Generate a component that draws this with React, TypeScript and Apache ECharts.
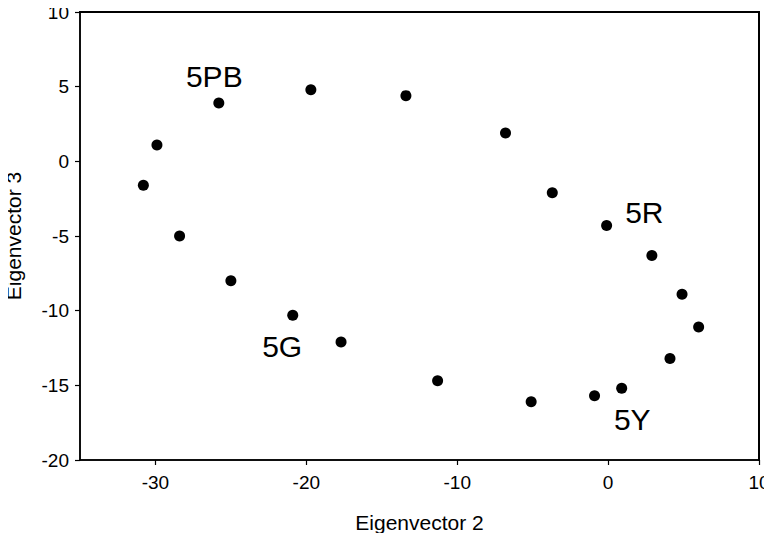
import React, { useEffect, useRef } from "react";
import * as echarts from "echarts";

const eigenvector2 = [-25.8, -19.7, -13.4, -6.8, -3.7, -0.1, 2.9, 4.9, 6.0, 4.1, 0.9, -0.9, -5.1, -11.3, -17.7, -20.9, -25.0, -28.4, -30.8, -29.9];
const eigenvector3 = [3.9, 4.8, 4.4, 1.9, -2.1, -4.3, -6.3, -8.9, -11.1, -13.2, -15.2, -15.7, -16.1, -14.7, -12.1, -10.3, -8.0, -5.0, -1.6, 1.1];

const labelNames = ["5PB", "5R", "5G", "5Y"];
const labelX = [-26.1, 2.4, -21.6, 1.6];
const labelY = [5.65, -3.4, -12.4, -17.3];

const xTicks = [-30, -20, -10, 0, 10];
const yTicks = [-20, -15, -10, -5, 0, 5, 10];
const xRange = [-35, 10];
const yRange = [-20, 10];

const FONT = "'Liberation Sans', Arial, Helvetica, sans-serif";

export default function App() {
  const ref = useRef<HTMLDivElement>(null);
  useEffect(() => {
    if (!ref.current) return;
    const chart = echarts.init(ref.current, null, { renderer: "svg" });
    chart.setOption({
      animation: false,
      grid: {
        left: 80,
        top: 12,
        right: 13,
        bottom: 81,
        outerBoundsMode: "none",
        show: true,
        borderColor: "#000",
        borderWidth: 1.5,
        backgroundColor: "rgba(255,255,255,0)",
      },
      xAxis: {
        type: "value",
        min: xRange[0],
        max: xRange[1],
        name: "Eigenvector 2",
        nameLocation: "middle",
        nameGap: 52,
        nameTextStyle: { color: "#000", fontSize: 21, fontFamily: FONT },
        axisLine: { onZero: false, lineStyle: { color: "#000", width: 1.5 } },
        axisTick: { show: true, length: 5, customValues: xTicks, lineStyle: { color: "#000", width: 1.2 } },
        axisLabel: { customValues: xTicks, color: "#000", fontSize: 19, fontFamily: FONT, margin: 13 },
        splitLine: { show: false },
      },
      yAxis: {
        type: "value",
        min: yRange[0],
        max: yRange[1],
        interval: 5,
        name: "Eigenvector 3",
        nameLocation: "middle",
        nameGap: 56,
        nameRotate: 90,
        nameTextStyle: { color: "#000", fontSize: 21, fontFamily: FONT },
        axisLine: { show: true, onZero: false, lineStyle: { color: "#000", width: 1.5 } },
        axisTick: { show: true, length: 5, customValues: yTicks, lineStyle: { color: "#000", width: 1.2 } },
        axisLabel: { customValues: yTicks, color: "#000", fontSize: 19, fontFamily: FONT, margin: 11 },
        splitLine: { show: false },
      },
      series: [
        {
          type: "scatter",
          symbol: "circle",
          symbolSize: 11,
          itemStyle: { color: "#000", opacity: 1 },
          data: eigenvector2.map((x, i) => [x, eigenvector3[i]]),
        },
      ],
    });
    const tl = chart.convertToPixel({ gridIndex: 0 }, [xRange[0], yRange[1]]) as number[];
    const br = chart.convertToPixel({ gridIndex: 0 }, [xRange[1], yRange[0]]) as number[];
    const texts = labelNames.map((n, i) => {
      const p = chart.convertToPixel({ gridIndex: 0 }, [labelX[i], labelY[i]]) as number[];
      return {
        type: "text",
        x: p[0],
        y: p[1],
        z: 20,
        style: {
          text: n,
          fill: "#000",
          fontSize: 30,
          fontFamily: FONT,
          align: "center",
          verticalAlign: "middle",
        },
      };
    });
    chart.setOption({
      graphic: [
        {
          type: "rect",
          z: 30,
          shape: { x: tl[0] - 1, y: tl[1] - 1, width: br[0] - tl[0] + 2, height: 2 },
          style: { fill: "#000" },
        },
        {
          type: "rect",
          z: 30,
          shape: { x: br[0] - 1, y: tl[1] - 1, width: 2, height: br[1] - tl[1] + 2 },
          style: { fill: "#000" },
        },
        ...texts,
      ],
    });
    return () => chart.dispose();
  }, []);
  return <div ref={ref} style={{ width: 772, height: 541, margin: -8 }} />;
}
